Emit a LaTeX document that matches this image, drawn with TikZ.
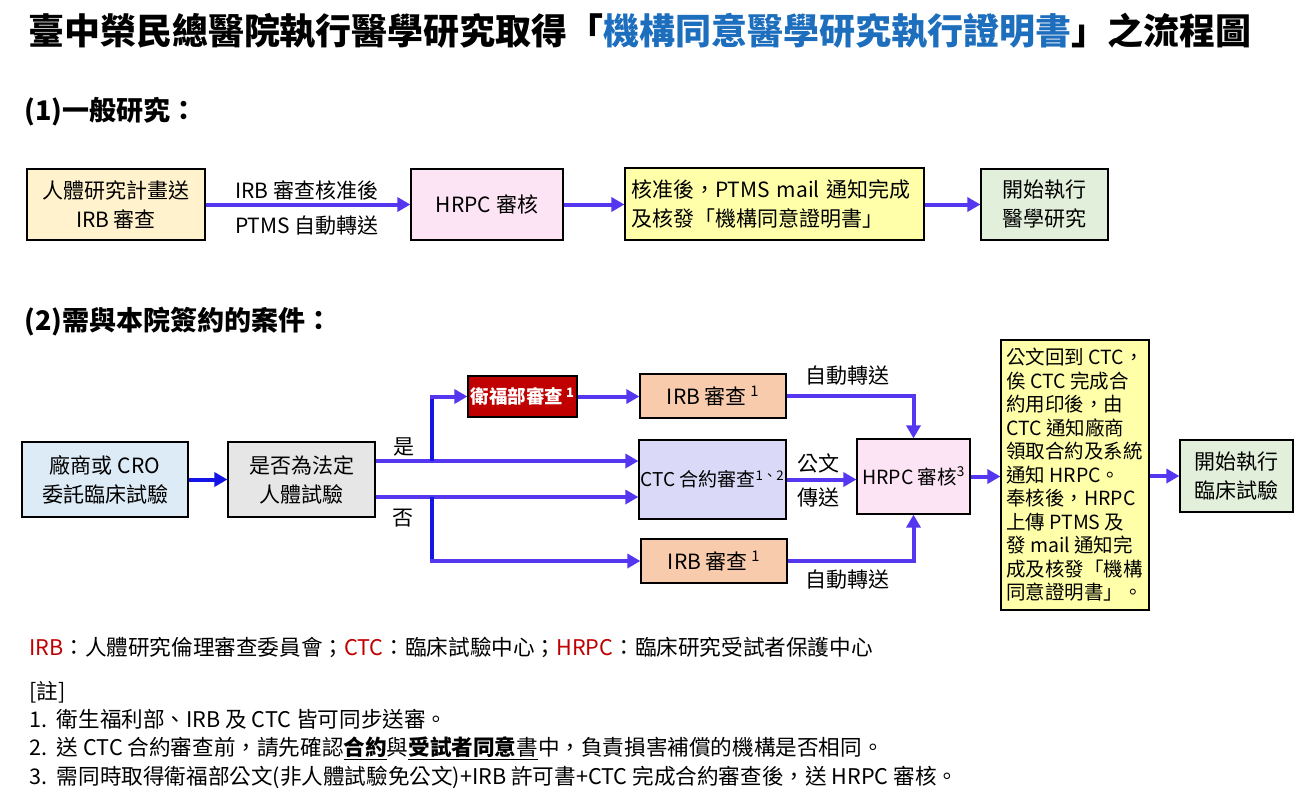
\documentclass[tikz,border=0pt]{standalone}
\usepackage{fontspec}
\setmainfont{Noto Sans CJK TC}
\usetikzlibrary{arrows.meta}
\definecolor{arrc}{RGB}{85,55,240}
\definecolor{bluel}{RGB}{20,20,230}
\definecolor{titleblue}{RGB}{30,110,190}
\definecolor{darkred}{RGB}{192,0,0}
\definecolor{fA}{RGB}{255,242,204}
\definecolor{fPink}{RGB}{252,228,244}
\definecolor{fYel}{RGB}{255,255,170}
\definecolor{fGreen}{RGB}{226,239,218}
\definecolor{fBlue}{RGB}{221,235,247}
\definecolor{fGray}{RGB}{231,230,230}
\definecolor{fPeach}{RGB}{248,203,173}
\definecolor{fLav}{RGB}{218,218,248}
\tikzset{
  box/.style={draw=black, line width=1.2pt, inner sep=0pt, align=center, font=\fontsize{21}{29}\selectfont},
  arr/.style={draw=arrc, line width=4pt, -{Triangle[length=13pt,width=14pt]}},
  bline/.style={draw=bluel, line width=4pt},
  lbl/.style={inner sep=0pt, font=\fontsize{21}{26}\selectfont},
  note/.style={inner sep=0pt, anchor=west, font=\fontsize{21.6}{25}\selectfont}
}
\begin{document}
\begin{tikzpicture}[x=1pt,y=-1pt]
\useasboundingbox (0,0) rectangle (1315,804);
% title
\node[inner sep=0pt, font=\fontsize{36}{40}\selectfont\bfseries] (title) at (640,31)
  {臺中榮民總醫院執行醫學研究取得「\textcolor{titleblue}{機構同意醫學研究執行證明書}」之流程圖};
\node[inner sep=0pt, anchor=west, font=\fontsize{27}{30}\selectfont\bfseries] (h1) at (24,112) {(1)一般研究：};
\node[inner sep=0pt, anchor=west, font=\fontsize{27}{30}\selectfont\bfseries] (h2) at (24,322) {(2)需與本院簽約的案件：};

% row 1
\node[box, fill=fA, minimum width=178pt, minimum height=71pt] (A) at (116,204.5) {人體研究計畫送\\IRB 審查};
\node[box, fill=fPink, minimum width=152pt, minimum height=71pt] (B) at (487,204.5) {HRPC 審核};
\node[box, fill=fYel, minimum width=299pt, minimum height=72pt, align=left, text width=287pt] (C) at (774.5,204) {核准後，PTMS mail 通知完成\\及核發「機構同意證明書」};
\node[box, fill=fGreen, minimum width=127pt, minimum height=71pt] (D) at (1044.5,204.5) {開始執行\\醫學研究};
\draw[arr] (A.east) -- (B.west);
\draw[arr] (B.east) -- (C.west |- B.east);
\draw[arr] (C.east |- D.west) -- (D.west);
\node[lbl] (l1) at (307,190) {IRB 審查核准後};
\node[lbl] (l2) at (307,226) {PTMS 自動轉送};

% row 2
\node[box, fill=fBlue, minimum width=166pt, minimum height=75pt] (E) at (105,479.5) {廠商或 CRO\\委託臨床試驗};
\node[box, fill=fGray, minimum width=147pt, minimum height=75pt] (F) at (301.5,479.5) {是否為法定\\人體試驗};
\node[box, fill=darkred, text=white, minimum width=109pt, minimum height=41pt, font=\fontsize{18.5}{24}\selectfont\bfseries] (G) at (522.5,396.5) {衛福部審查\,\textsuperscript{1}};
\node[box, fill=fPeach, minimum width=146pt, minimum height=44pt] (H) at (713,396) {IRB 審查\,\textsuperscript{1}};
\node[box, fill=fLav, minimum width=147pt, minimum height=79pt, font=\fontsize{19}{24}\selectfont] (I) at (712.5,479.5) {CTC 合約審查\textsuperscript{1、2}};
\node[box, fill=fPeach, minimum width=146pt, minimum height=44pt] (J) at (714,561) {IRB 審查\,\textsuperscript{1}};
\node[box, fill=fPink, minimum width=113pt, minimum height=75pt, font=\fontsize{19.5}{24}\selectfont] (K) at (913.5,476.5) {HRPC 審核\textsuperscript{3}};
\node[box, fill=fYel, minimum width=148pt, minimum height=270pt, align=left, font=\fontsize{19.5}{23.5}\selectfont] (L) at (1075,475)
  {公文回到 CTC，\\俟 CTC 完成合\\約用印後，由\\CTC 通知廠商\\領取合約及系統\\通知 HRPC。\\奉核後，HRPC\\上傳 PTMS 及\\發 mail 通知完\\成及核發「機構\\同意證明書」。};
\node[box, fill=fGreen, minimum width=113pt, minimum height=72pt] (M) at (1236.5,476) {開始執行\\臨床試驗};

\coordinate (bu) at (432,461);
\coordinate (bd) at (432,497);
\draw[line width=4pt, draw=bluel, -{Triangle[length=13pt,width=14pt]}] (E.east) -- (F.west);
\draw[arr] (F.east |- bu) -- (I.west |- bu);
\draw[arr] (F.east |- bd) -- (I.west |- bd);
\draw[bline] (bu) -- (bu |- G.west);
\draw[bline] (bd) -- (bd |- J.west);
\draw[arr] ([xshift=-2pt]bu |- G.west) -- (G.west);
\draw[arr] ([xshift=-2pt]bd |- J.west) -- (J.west);
\draw[arr] (G.east) -- (H.west |- G.east);
\draw[arr] (H.east) -| (K.north);
\draw[arr] (J.east) -| (K.south);
\draw[arr] (I.east) -- (I.east -| K.west);
\draw[arr] (K.east) -- (K.east -| L.west);
\draw[arr] (L.east |- M.west) -- (M.west);

\node[lbl] (yes) at (404,447) {是};
\node[lbl] (no) at (403,518) {否};
\node[lbl] (au1) at (847,376) {自動轉送};
\node[lbl] (au2) at (847,580) {自動轉送};
\node[lbl] (gw1) at (818,463) {公文};
\node[lbl] (gw2) at (818,498) {傳送};

% legend and notes
\node[note] (leg) at (29,647) {\textcolor{darkred}{IRB}：人體研究倫理審查委員會；\textcolor{darkred}{CTC}：臨床試驗中心；\textcolor{darkred}{HRPC}：臨床研究受試者保護中心};
\node[note] (n0) at (29,692) {[註]};
\node[note] (n1) at (29,719) {1.\ \ 衛生福利部、IRB 及 CTC 皆可同步送審。};
\node[note] (n2) at (29,748) {2.\ \ 送 CTC 合約審查前，請先確認\underline{\textbf{合約}}與\underline{\textbf{受試者同意}書}中，負責損害補償的機構是否相同。};
\node[note] (n3) at (29,777) {3.\ \ 需同時取得衛福部公文(非人體試驗免公文)+IRB 許可書+CTC 完成合約審查後，送 HRPC 審核。};
\end{tikzpicture}
\end{document}
